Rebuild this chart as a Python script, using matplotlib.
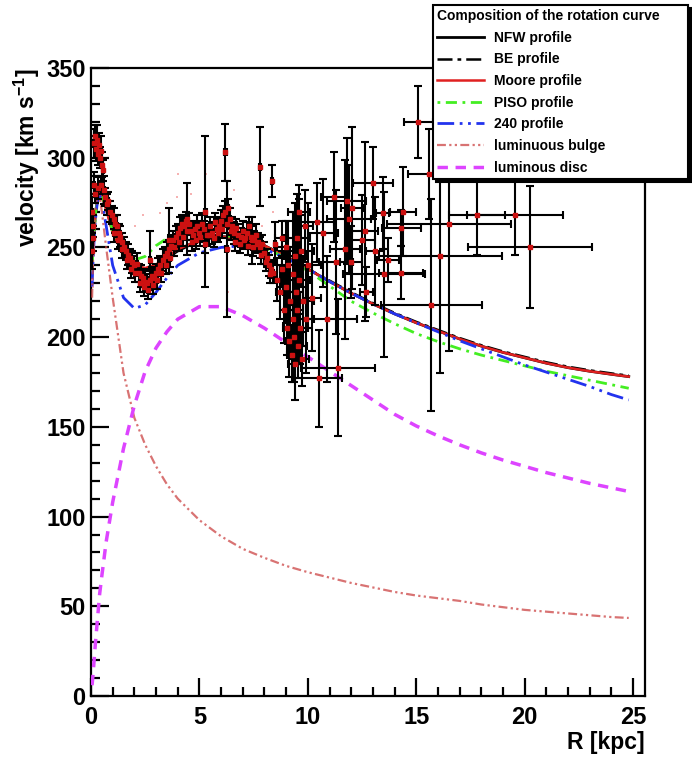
import numpy as np
import matplotlib.pyplot as plt

plt.rcParams['font.family'] = ['Liberation Sans', 'DejaVu Sans']
plt.rcParams['font.weight'] = 'bold'
plt.rcParams['mathtext.default'] = 'regular'

# model curves
model_r = [0.05, 0.1, 0.2, 0.3, 0.4, 0.5, 0.7, 1.0, 1.5, 2.0, 2.5, 3.0, 3.5, 4.0, 5.0, 6.0,
           7.0, 8.0, 9.0, 10, 11, 12, 13, 14, 15, 16, 17, 18, 19, 20, 21, 22, 23, 24, 24.8]
nfw = [238, 252, 268, 277, 280, 279, 272, 259, 246, 240, 238, 240, 244, 248, 254, 256,
       255, 251, 245, 238, 231, 224.5, 218.5, 213, 208, 203.5, 199, 195, 191.5, 188.5, 185.5, 183, 181, 179.3, 178]
be = [236, 251, 268, 277, 280, 279, 272, 259, 246, 240, 238, 240, 244, 249, 254, 256,
      255, 251, 245, 238, 231.5, 225, 219, 213.5, 208.5, 204, 199.5, 195.5, 192, 189, 186, 183.5, 181.5, 179.8, 178.5]
moore = [240, 254, 269, 277, 280, 278, 271, 258, 246, 240, 238.5, 240.5, 244.5, 249, 254, 256,
         255, 251, 245, 238, 231, 224.5, 218.5, 213, 208, 203.5, 199, 195, 191.5, 188.5, 185.5, 183, 181, 179.3, 178]
piso = [236, 252, 268, 277, 280, 279, 272, 259, 247, 243, 245, 251, 255, 257, 258, 257,
        255, 250, 244, 237, 228.5, 220, 213.5, 207.5, 202, 197.5, 193.5, 190, 187, 184, 181, 178.5, 176, 173.5, 171.5]
p240 = [228, 245, 265, 276, 279, 276, 262, 240, 222, 216, 218, 225, 233, 240, 247, 250,
        251, 249, 244, 238, 231, 224.5, 218.5, 213, 208, 203, 198, 193.5, 189, 184.5, 180.5, 176.5, 172.5, 168, 165]
bulge = [222, 245, 270, 280, 278, 270, 250, 222, 180, 155, 140, 128, 118, 110, 98, 89,
         82, 77, 72.5, 69, 66, 63, 60.5, 58, 56, 54.5, 53, 51, 49.5, 48, 47, 46, 45, 44, 43.5]
disc = [6, 13, 29, 43, 57, 67, 86, 108, 138, 162, 181, 194, 203, 210, 217, 217,
        212, 205, 197, 189, 181, 173, 165, 157, 150.5, 145, 140, 135.5, 131.5, 128, 124.5, 121.5, 118.5, 116, 114]

# inner data, small errors
inner_r = [0.12, 0.18, 0.22, 0.27, 0.31, 0.35, 0.40, 0.44, 0.50, 0.55,
           0.05, 0.07, 0.05, 0.10, 0.15, 0.20, 0.30, 0.45, 0.60,
           0.65, 0.72, 0.80, 0.88, 0.96, 1.04, 1.12, 1.20, 1.28, 1.36, 1.44, 1.52, 1.60, 1.70,
           1.80, 1.90, 2.00, 2.10, 2.20, 2.30, 2.40, 2.50, 2.60, 2.70, 2.80, 2.90, 3.00, 3.10,
           3.20, 3.30, 3.40, 3.50, 3.60, 3.70, 3.80, 3.90, 4.00, 4.10, 4.20, 4.30, 4.40, 4.50,
           4.60, 4.70, 4.80, 4.90, 5.00, 5.10, 5.20, 5.35, 5.50, 5.60, 5.70, 5.80, 5.90, 6.00,
           6.10, 6.20, 6.30, 6.40, 6.50, 6.60, 6.70, 6.80, 6.90, 7.00, 7.10, 7.20, 7.30, 7.40,
           7.50, 7.60, 7.70, 7.80, 7.90, 8.00, 8.10, 8.20, 8.30, 8.40]
inner_v = [308, 312, 305, 310, 302, 307, 300, 304, 296, 293,
           270, 255, 248, 262, 285, 280, 283, 285, 282,
           278, 274, 276, 270, 268, 266, 263, 262, 258, 256, 253, 250, 248, 246,
           244, 242, 240, 241, 236, 234, 233, 231, 230, 232, 234, 233, 236, 238,
           240, 243, 245, 247, 249, 251, 254, 256, 258, 261, 263, 262, 265, 263,
           259, 257, 260, 262, 258, 263, 260, 257, 262, 258, 264, 260, 262, 265,
           268, 270, 272, 266, 262, 258, 261, 257, 256, 259, 255, 258, 262, 256,
           254, 257, 253, 250, 252, 247, 244, 240, 238, 236]
inner_ev = [8, 6, 7, 8, 6, 7, 6, 8, 7, 6,
            8, 7, 10, 6, 7, 5, 6, 5, 8,
            5, 6, 5, 6, 5, 6, 5, 6, 5, 6, 5, 6, 5, 6,
            5, 6, 5, 6, 5, 6, 5, 6, 5, 6, 5, 6, 5, 6,
            5, 6, 5, 6, 5, 6, 5, 6, 5, 6, 5, 6, 5, 6,
            5, 6, 5, 6, 5, 6, 5, 6, 5, 6, 5, 6, 5, 6,
            5, 6, 5, 6, 5, 6, 5, 6, 5, 6, 5, 6, 5, 6,
            5, 6, 5, 6, 5, 6, 5, 6, 5, 6]

inner2_r = [1.05, 1.25, 1.45, 1.65, 1.85, 2.05, 2.25, 2.45, 2.65, 2.85, 3.05, 3.25, 3.45,
            3.65, 3.85, 4.05, 4.25, 4.45, 4.65, 4.85, 5.05, 5.25, 5.45, 5.65, 5.85, 6.05,
            6.25, 6.45, 6.65, 6.85, 7.05, 7.25, 7.45, 7.65, 7.85, 8.05, 8.25]
inner2_v = [258, 254, 249, 243, 238, 236, 230, 228, 226, 229, 232, 236, 240, 244, 250, 253,
            256, 259, 253, 254, 256, 252, 257, 255, 258, 260, 263, 259, 253, 252, 254, 251,
            250, 252, 246, 242, 235]

# inner points with large errors
big_r = [2.74, 3.6, 4.43, 5.28, 6.2, 6.25, 7.43, 7.8, 8.35, 8.5]
big_v = [243, 254, 266, 270, 303, 249, 254, 295, 287, 252]
big_ev = [16, 18, 20, 42, 16, 38, 13, 22, 9, 12]

# cluster and outer points with R and v errors
out_r = [8.6, 8.7, 8.8, 8.9, 9.0, 9.05, 9.1, 9.15, 9.2, 9.25, 9.3, 9.3, 9.35, 9.4, 9.4,
         9.45, 9.5, 9.5, 9.55, 9.6, 9.65, 9.7, 9.75, 9.8, 9.85, 9.9, 10.0, 9.0, 8.8, 9.6,
         10.4, 10.7, 10.9, 10.5, 11.4, 11.3, 11.2, 11.8, 12.03, 11.9, 11.7, 12.0, 12.65, 12.5,
         13.1, 13.0, 13.5, 12.7, 13.45, 13.7, 14.3, 14.4, 10.2, 14.3,
         15.1, 15.6, 17.8, 19.56, 20.25, 16.5, 16.1, 15.7]
out_v = [232, 225, 238, 215, 228, 205, 240, 198, 220, 190, 235, 210, 200, 245, 185,
         225, 215, 255, 195, 232, 205, 248, 188, 220, 262, 210, 240, 250, 255, 270,
         264, 258, 210, 177, 183, 242, 278, 276, 272, 266, 249, 242, 259, 254,
         248, 286, 235, 225, 269, 243, 261, 270, 222, 236,
         320, 291, 268, 268, 250, 263, 245, 218]
out_er = [0.1, 0.15, 0.1, 0.2, 0.15, 0.2, 0.3, 0.2, 0.25, 0.2, 0.4, 0.3, 0.25, 0.5, 0.3,
          0.35, 0.3, 0.6, 0.4, 0.5, 0.35, 0.6, 0.3, 0.5, 0.4, 0.4, 0.6, 0.4, 0.3, 0.5,
          0.8, 0.7, 1.35, 1.07, 1.7, 0.8, 0.6, 0.9, 0.5, 1.0, 0.7, 0.5, 0.6, 0.6,
          0.4, 0.92, 1.9, 0.3, 0.3, 0.5, 0.9, 0.6, 0.4, 1.0,
          0.65, 1.0, 1.3, 2.2, 2.85, 2.85, 2.84, 2.34]
out_ev = [12, 15, 10, 18, 20, 15, 25, 20, 30, 15, 35, 22, 25, 30, 20,
          40, 30, 25, 18, 45, 20, 20, 15, 25, 20, 30, 35, 15, 10, 15,
          22, 30, 35, 27, 38, 40, 25, 35, 45, 30, 50, 20, 50, 25,
          30, 20, 46, 14, 20, 12, 10, 25, 30, 15,
          20, 25, 22, 22, 34, 71, 65, 59]

# faint points without errors
pink_r = [0.05, 0.08, 0.1, 0.12, 0.06, 2.05, 2.4, 3.2, 3.5, 3.97, 4.03, 4.6, 5.3, 6.3, 6.6, 7.9, 8.4]
pink_v = [232, 240, 228, 250, 262, 262, 268, 269, 275, 278, 291, 280, 291, 225, 282, 262, 270]

fig = plt.figure(figsize=(6.92, 7.64), dpi=100)
ax = fig.add_axes([91/692, 68/764, (645-91)/692, (696-68)/764])

ln_nfw, = ax.plot(model_r, nfw, color='black', lw=2, label='NFW profile', zorder=3)
ln_be, = ax.plot(model_r, be, color='black', lw=1.8, ls=(0, (6, 2, 1.5, 2)), label='BE profile', zorder=3)
ln_moore, = ax.plot(model_r, moore, color='#e02020', lw=1.8, label='Moore profile', zorder=3)
ln_piso, = ax.plot(model_r, piso, color='#44ee22', lw=2, ls=(0, (1, 2, 4, 2)), label='PISO profile', zorder=3)
ln_240, = ax.plot(model_r, p240, color='#2233ee', lw=2, ls=(0, (6, 2, 1, 2, 1, 2)), label='240 profile', zorder=3)
ln_bulge, = ax.plot(model_r, bulge, color='#cc4444', lw=1.6, alpha=0.75,
                    ls=(0, (4, 1.5, 1, 1.5, 1, 1.5)), label='luminuous bulge', zorder=3)
ln_disc, = ax.plot(model_r, disc, color='#dd44ff', lw=2.5, ls=(0, (3, 2.2)), label='luminous disc', zorder=3)

ax.scatter(pink_r, pink_v, s=4, marker='s', color='#f08080', alpha=0.6, lw=0, zorder=4)

ebkw = dict(fmt='s', ms=2.2, mfc='#cc1111', mec='#cc1111', ecolor='black',
            elinewidth=1.5, capsize=2.8, capthick=1.5, zorder=5)
ax.errorbar(inner_r, inner_v, yerr=inner_ev, xerr=0.05, **ebkw)
ax.errorbar(inner2_r, inner2_v, yerr=5, xerr=0.05, **ebkw)
ax.errorbar(big_r, big_v, yerr=big_ev, xerr=0.05, **ebkw)
ax.errorbar(out_r, out_v, yerr=out_ev, xerr=out_er, **ebkw)

ax.set_xlim(0, 25.55)
ax.set_ylim(0, 350)
ax.set_xticks(np.arange(0, 26, 5))
ax.set_xticks(np.arange(0, 26, 1), minor=True)
ax.set_yticks(np.arange(0, 351, 50))
ax.set_yticks(np.arange(0, 351, 10), minor=True)
ax.tick_params(which='both', direction='in', top=False, right=False, width=1.6, labelsize=17)
ax.tick_params(which='major', length=13)
ax.tick_params(which='minor', length=6.5)
ax.tick_params(axis='y', pad=4)
ax.tick_params(axis='x', pad=7)
for s in ax.spines.values():
    s.set_linewidth(1.6)

ax.set_ylabel('velocity [km s$^{-1}$]', loc='top', fontsize=16.5, fontweight='bold', labelpad=3)
ax.set_xlabel('R [kpc]', loc='right', fontsize=16.5, fontweight='bold', labelpad=2)

handles = [ln_nfw, ln_be, ln_moore, ln_piso, ln_240, ln_bulge, ln_disc]
leg = ax.legend(handles=handles, loc='upper left',
                bbox_to_anchor=(433/692, 1 - 5/764, (688-433)/692, 0),
                bbox_transform=fig.transFigure, mode='expand',
                title='Composition of the rotation curve',
                prop={'weight': 'bold', 'size': 10},
                title_fontproperties={'weight': 'bold', 'size': 10},
                fancybox=False, edgecolor='black', framealpha=1, borderpad=0.3,
                labelspacing=0.55, handlelength=3.4, handletextpad=0.7,
                alignment='left', borderaxespad=0,
                shadow={'color': 'black', 'alpha': 1})
leg.get_frame().set_linewidth(1.5)
leg.set_zorder(10)

fig.savefig('out.png', dpi=100)
